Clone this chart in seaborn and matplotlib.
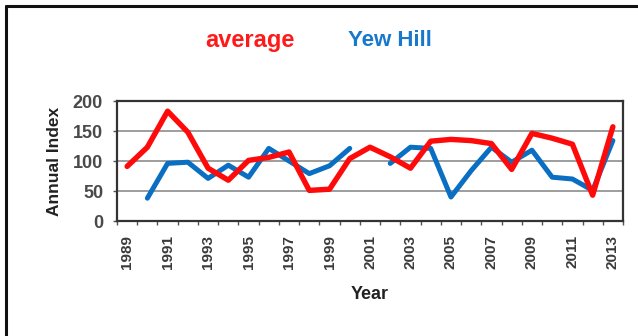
import numpy as np
import pandas as pd
import matplotlib
matplotlib.use('Agg')
import matplotlib.pyplot as plt
import seaborn as sns

years = list(range(1989, 2014))
average = [91, 123, 183, 148, 88, 68, 101, 106, 115, 51, 53, 104, 123, 107, 88,
           133, 136, 134, 129, 86, 146, 138, 128, 43, 157]
yew_hill = [np.nan, 38, 96, 98, 71, 93, 73, 121, 100, 79, 92, 121, np.nan, 96, 123,
            121, 40, 84, 123, 98, 118, 73, 70, 51, 134]
tick_labels = [str(y) if (y - 1989) % 2 == 0 else '' for y in years]

sns.set_style('white')
plt.rcParams['font.family'] = ['Liberation Sans', 'DejaVu Sans']

df = pd.DataFrame({'pos': np.arange(len(years)), 'average': average, 'yew': yew_hill})

fig = plt.figure(figsize=(6.38, 3.36), dpi=100)
ax = fig.add_axes([117 / 638, 1 - 221 / 336, 506 / 638, 120 / 336])

# blue series drawn in segments so the missing years leave gaps
df['seg'] = df['yew'].isna().cumsum()
for _, part in df.dropna(subset=['yew']).groupby('seg'):
    sns.lineplot(data=part, x='pos', y='yew', ax=ax, color='#0A6FC2', lw=3.6,
                 solid_capstyle='round', solid_joinstyle='round')
sns.lineplot(data=df, x='pos', y='average', ax=ax, color='#FF0A0A', lw=3.9,
             solid_capstyle='round', solid_joinstyle='round', zorder=5)

ax.set_xlim(-0.5, len(years) - 0.5)
ax.set_ylim(0, 200)
ax.set_yticks([0, 50, 100, 150, 200])
ax.yaxis.grid(True, color='#8c8c8c', lw=1.2)
ax.set_axisbelow(True)
ax.set_xticks(df['pos'])
ax.set_xticklabels(tick_labels, rotation=90, fontsize=11, fontweight='bold', color='#3a3a3a')
ax.set_xticks(np.arange(-0.5, len(years)), minor=True)
ax.tick_params(axis='x', which='major', length=0, pad=10)
ax.tick_params(axis='x', which='minor', length=3, width=1, color='#555555', direction='out', bottom=True)
ax.tick_params(axis='y', length=3, width=1, color='#555555', direction='out', left=True,
               labelsize=13, labelcolor='#4a4a4a', pad=7)
for lab in ax.get_yticklabels():
    lab.set_fontweight('bold')
for side in ['left', 'bottom', 'right', 'top']:
    ax.spines[side].set_color('#333333')
    ax.spines[side].set_linewidth(1.6)
ax.set_xlabel('Year', fontsize=13, fontweight='bold', color='#222222', labelpad=12)
ax.set_ylabel('Annual Index', fontsize=12.5, fontweight='bold', color='#222222', labelpad=8)

fig.text(250 / 638, 1 - 40 / 336, 'average', color='#FF1A1A', fontsize=17,
         fontweight='bold', ha='center', va='center')
fig.text(390 / 638, 1 - 40 / 336, 'Yew Hill', color='#1A78CC', fontsize=16,
         fontweight='bold', ha='center', va='center')

# outer frame lines (top and left)
fig.add_artist(plt.Line2D([6 / 638, 1], [1 - 6 / 336, 1 - 6 / 336], color='#111111', lw=2.2))
fig.add_artist(plt.Line2D([6 / 638, 6 / 638], [0, 1 - 6 / 336], color='#111111', lw=2.2))

fig.savefig('out.png', dpi=100, facecolor='white')
